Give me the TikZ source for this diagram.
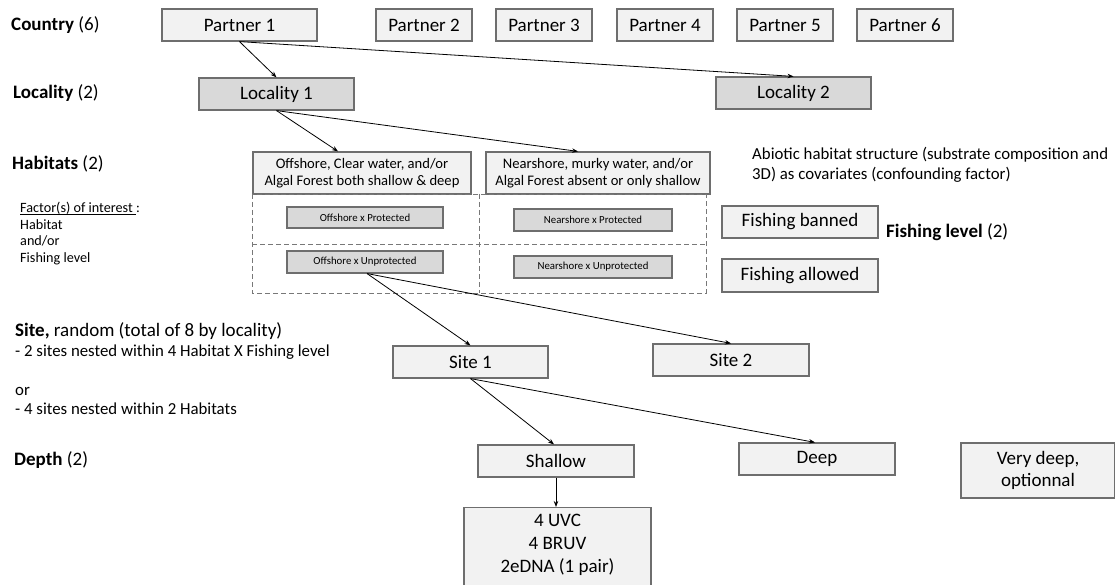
\documentclass[tikz,border=0pt]{standalone}
\usepackage{fontspec}
\setmainfont{Carlito}
\usetikzlibrary{calc,arrows.meta}
\definecolor{boxfill}{RGB}{242,242,242}
\definecolor{darkfill}{RGB}{217,217,217}
\definecolor{boxline}{RGB}{110,110,110}
\definecolor{dashcol}{RGB}{120,120,120}
\newcommand\myul[1]{\setbox0\hbox{#1}\rlap{\rule[-1.8pt]{\wd0}{0.7pt}}\box0}
\begin{document}
\begin{tikzpicture}[x=1pt,y=-1pt,
  box/.style={draw=boxline, line width=1.2pt, fill=boxfill, inner sep=0pt, align=center,
    font=\fontsize{19}{22}\selectfont},
  dbox/.style={box, fill=darkfill},
  sbox/.style={draw=boxline, line width=1.1pt, fill=darkfill, inner sep=0pt, align=center,
    font=\fontsize{10.8}{12}\selectfont},
  hbox/.style={box, font=\fontsize{14.6}{17}\selectfont},
  lbl/.style={anchor=west, inner sep=0pt, align=left, font=\fontsize{19}{22}\selectfont},
  slbl/.style={anchor=west, inner sep=0pt, align=left, font=\fontsize{16.8}{19.5}\selectfont},
  flbl/.style={anchor=west, inner sep=0pt, align=left, font=\fontsize{14.2}{16.7}\selectfont},
  arr/.style={-{Stealth[length=6pt,width=4.5pt]}, line width=0.8pt, black},
  dsh/.style={draw=dashcol, line width=0.9pt, dash pattern=on 5pt off 3pt}]
\useasboundingbox (0,0) rectangle (1115,585);
\fill[white] (0,0) rectangle (1115,585);

% left labels
\node[lbl] (lcountry) at (11,25) {\textbf{Country} (6)};
\node[lbl] (llocality) at (13,93) {\textbf{Locality} (2)};
\node[lbl] (lhabitats) at (12,164) {\textbf{Habitats} (2)};
\node[flbl, anchor=north west] (lfactor) at (20,202) {\myul{Factor(s) of interest }:\\Habitat\\and/or\\Fishing level};
\node[lbl] (lsite) at (15,331) {\textbf{Site,} random (total of 8 by locality)};
\node[slbl, anchor=north west] (lsitetxt) at (15,345) {- 2 sites nested within 4 Habitat X Fishing level\\[19pt]or\\- 4 sites nested within 2 Habitats};
\node[lbl] (ldepth) at (14,460) {\textbf{Depth} (2)};

% partners
\node[box, minimum width=155pt, minimum height=32pt] (p1) at (239.5,25) {Partner 1};
\node[box, minimum width=96pt, minimum height=32pt] (p2) at (424,25) {Partner 2};
\node[box, minimum width=96pt, minimum height=32pt] (p3) at (544,25) {Partner 3};
\node[box, minimum width=96pt, minimum height=32pt] (p4) at (665,25) {Partner 4};
\node[box, minimum width=96pt, minimum height=32pt] (p5) at (785,25) {Partner 5};
\node[box, minimum width=96pt, minimum height=32pt] (p6) at (905,25) {Partner 6};

% localities
\node[dbox, minimum width=155pt, minimum height=32pt] (loc1) at (276.5,94) {Locality 1};
\node[dbox, minimum width=155pt, minimum height=32pt] (loc2) at (793.5,93) {Locality 2};

% habitats
\node[hbox, minimum width=218pt, minimum height=42pt] (hab1) at (362,173) {Offshore, Clear water, and/or\\Algal Forest both shallow \& deep};
\node[hbox, minimum width=224pt, minimum height=42pt] (hab2) at (598,173) {Nearshore, murky water, and/or\\Algal Forest absent or only shallow};

% dashed grid
\coordinate (gtl) at (252,194);
\coordinate (gbr) at (706,293);
\draw[dsh] (gtl) rectangle (gbr);
\draw[dsh] (252,244) -- (706,244);
\draw[dsh] (479,194) -- (479,293);

% combos
\node[sbox, minimum width=156pt, minimum height=21pt] (oxp) at (365,217.5) {Offshore x Protected};
\node[sbox, minimum width=158pt, minimum height=22pt] (nxp) at (593,220) {Nearshore x Protected};
\node[sbox, minimum width=156pt, minimum height=22pt] (oxu) at (365,262) {Offshore x Unprotected};
\node[sbox, minimum width=158pt, minimum height=22pt] (nxu) at (593,267) {Nearshore x Unprotected};

% fishing
\node[box, minimum width=156pt, minimum height=32pt] (fban) at (800,222) {Fishing banned};
\node[box, minimum width=156pt, minimum height=33pt] (fall) at (800,275.5) {Fishing allowed};
\node[lbl] (lfish) at (886,232) {\textbf{Fishing level} (2)};
\node[slbl] (labiotic) at (752,165) {Abiotic habitat structure (substrate composition and\\3D) as covariates (confounding factor)};

% sites
\node[box, minimum width=155pt, minimum height=32pt] (site1) at (470.5,362) {Site 1};
\node[box, minimum width=156pt, minimum height=32pt] (site2) at (731,360) {Site 2};

% depths
\node[box, minimum width=156pt, minimum height=32pt] (shallow) at (556,461) {Shallow};
\node[box, minimum width=156pt, minimum height=32pt] (deep) at (817,459) {Deep};
\node[box, minimum width=154pt, minimum height=55pt] (vdeep) at (1038,470.5) {Very deep,\\optionnal};

% methods
\node[box, minimum width=187pt, minimum height=84pt, anchor=north] (meth) at (557.5,507) {};
\node[inner sep=0pt, align=center, font=\fontsize{19}{23}\selectfont] (methtxt) at (557.5,545) {4 UVC\\4 BRUV\\2eDNA (1 pair)};

% connectors
\draw[arr] (p1.south) -- (loc1.north);
\draw[arr] (p1.south) -- (loc2.north);
\draw[arr] (loc1.south) -- ($(hab1.north)+(-24,0)$);
\draw[arr] (loc1.south) -- ($(hab2.north)+(-20,0)$);
\draw[arr] ($(oxu.south)+(2,0)$) -- (site1.north);
\draw[arr] ($(oxu.south)+(2,0)$) -- (site2.north);
\draw[arr] (site1.south) -- ($(shallow.north)+(-2,0)$);
\draw[arr] (site1.south) -- ($(deep.north)+(-2,0)$);
\draw[arr] (shallow.south) -- (shallow.south |- meth.north);
\end{tikzpicture}
\end{document}
